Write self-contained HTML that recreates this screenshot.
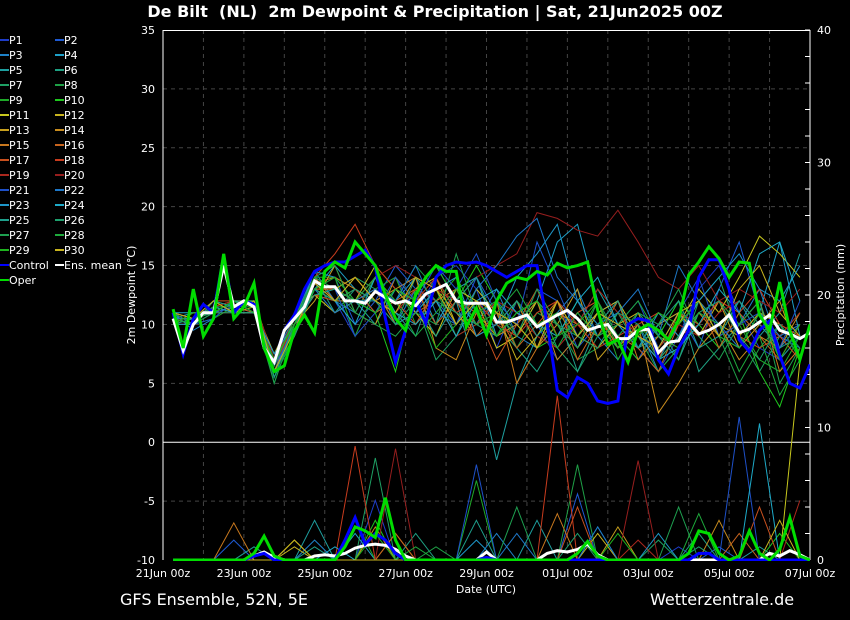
<!DOCTYPE html>
<html><head><meta charset="utf-8"><style>
body{margin:0;background:#000;width:850px;height:620px;overflow:hidden;font-family:"DejaVu Sans","Liberation Sans",sans-serif}
svg{display:block}
text{fill:#fff}
.pre{white-space:pre}
</style></head><body>
<svg id="chart" width="850" height="620" viewBox="0 0 850 620" xmlns="http://www.w3.org/2000/svg">
<rect x="0" y="0" width="850" height="620" fill="#000"/>
<text class="pre" xml:space="preserve" x="435" y="17" text-anchor="middle" font-size="16" font-weight="bold">De Bilt  (NL)  2m Dewpoint &amp; Precipitation | Sat, 21Jun2025 00Z</text>
<g id="grid"></g>
<g id="axes"></g>
<g id="series" clip-path="url(#clip)"></g>
<g id="legend"></g>
<defs><clipPath id="clip"><rect x="163" y="30" width="647" height="531"/></clipPath></defs>
<text transform="translate(135,295) rotate(-90)" text-anchor="middle" font-size="11">2m Dewpoint (°C)</text>
<text transform="translate(844,295) rotate(-90)" text-anchor="middle" font-size="11">Precipitation (mm)</text>
<text x="486" y="593" text-anchor="middle" font-size="11">Date (UTC)</text>
<text x="120" y="605" font-size="16">GFS Ensemble, 52N, 5E</text>
<text x="650" y="605" font-size="16">Wetterzentrale.de</text>
</svg>
<script>
const xTickLabels=["21Jun 00z","23Jun 00z","25Jun 00z","27Jun 00z","29Jun 00z","01Jul 00z","03Jul 00z","05Jul 00z","07Jul 00z"];
const yTicks=[-10,-5,0,5,10,15,20,25,30,35];
const y2Ticks=[0,10,20,30,40];
const memberColors=["#1e3cc8","#1e5ad2","#1e82c8","#1ea0c8","#1ea0a0","#1ea082","#1ea064","#1ea046","#1eaa28","#1ec81e","#c8c81e","#c8b41e","#c8a01e","#c88c1e","#c8781e","#c8641e","#c8501e","#c83c1e","#aa281e","#961e1e","#1e50c8","#1e78c8","#1e96c8","#1eaac8","#1ea08c","#1ea06e","#1ea050","#1eaa3c","#1eb41e","#c8b41e"];
const controlDew=[11,7.5,10.5,11.7,11,15.8,11,12,11.7,8,6.8,9.5,10.8,13,14.5,15,15.3,15.3,15.8,16.3,14.9,10.5,6.8,9.5,12,10.1,14,15,15.3,15.2,15.3,15,14.5,14,14.5,15,15,10,4.4,3.8,5.5,5,3.5,3.3,3.5,10,10.5,10.3,7,5.8,8,9.5,14,15.5,15.5,13,8.7,7.7,9.5,10.3,7.4,5,4.6,6.6];
const operDew=[11.3,8,13,9,10.5,16,10.5,11.5,13.5,8,6,6.5,9.5,10.8,9.3,14.5,15.3,14.8,17,16,15,12.5,10.5,9.5,12.5,14,15,14.5,14.5,9.8,11.4,9.1,12,13.5,14,13.8,14.5,14.2,15.2,14.8,15,15.3,11.2,8.3,8.7,6.8,9.5,10,9.5,8.7,10.4,14.2,15.3,16.6,15.6,14,15.3,15.2,10.8,9.5,13.6,9.5,7,10];
const meanDew=[10.5,7.8,10,11,11,15,11.5,12,11.5,8,6.8,9.5,10.5,11.5,13.7,13.2,13.2,12,12,11.8,12.8,12.3,11.8,12,11.6,12.6,13,13.4,12,11.8,11.8,11.8,10.2,10.2,10.5,10.8,9.8,10.3,10.8,11.2,10.5,9.5,9.8,10,8.8,8.8,9.5,9.6,7.6,8.5,8.6,10.2,9.2,9.5,10,10.8,9.3,9.6,10.2,10.8,9.5,9.2,8.8,9.3];
const memberDew=[
[10.5,10,11.5,11,12,6.5,10,14,12,9,13,14,11,14,15,13,8,12,10,7,9,11,12,8,6,9,13,15,11,8,7,9],
[10,10.5,12,11.5,11,7,9.5,13,14,10,12,15,13,12,10,14,11,9,13,12,8,10,9,7,10,11,8,13,17,11,9,8],
[11,9.5,10.5,12,11,7.5,10.5,14.5,12,11,14,10,13,15,12,10,13,9,8,11,13,9,7,10,6,8,10,12,10,13,8,10],
[10.5,11,11,11.5,12,6,9,13,15,13,11,12,14,10,13,14,9,10,12,17,18.5,12,8,9,7,10,12,9,8,11,17,9],
[10,10,11,12,11.5,6.5,10,13.5,13,12,10,13,11,13,12,6,-1.5,5,9,11,10,13,10,8,9,7,11,10,12,9,11,16],
[11,10.5,11.5,11,11,7,10.5,14,11,13,12,11,9,14,11,12,10,8,6,9,12,10,8,11,9,12,6,8,10,12,7,9],
[10.5,10,12,11.5,12,5.5,9,13,12,14,13,10,12,7,9,13,11,9,12,8,6,9,11,8,10,7,12,14,9,6,9,11],
[10,11,11,12,11,5,10,13.5,13,11,14,12,15,13,9,10,12,8,11,10,7,8,10,9,6,8,11,9,5,8,10,7],
[11,10,10.5,11.5,12,6,9.5,14,14,9,13,14,10,12,14,11,9,12,10,11,9,12,7,10,8,11,9,12,10,7,6,9],
[10.5,10.5,11,12,11,7,10,13,12,12,11,6,13,15,12,15,12,10,8,9,12,10,9,7,9,12,10,8,11,6,3,8],
[10,10,11.5,11,11.5,7.5,11,12.5,11,12,15,13,11,9,13,12,8,9,12,10,8,11,12,9,8,10,13,11,14,17.5,16,14],
[11,10.5,11,12,12,7,10.5,13,13,14,12,11,13,14,10,13,11,7,9,12,9,8,10,11,7,9,12,10,9,11,10,9],
[10.5,10,12,11,11,6.5,10,12,15,11,10,14,12,13,11,9,10,12,8,10,13,7,9,8,10,11,9,12,8,10,12,7],
[10,11,11,11.5,12,7,9.5,13.5,14,13,12,13,14,8,7,11,9,10,12,7,9,11,8,10,2.5,5,8,10,7,9,8,11],
[11,10,11.5,12,11.5,6,10.5,14,12,12,13,10,11,12,13,10,12,5,8,11,10,9,12,7,9,8,11,9,10,12,6,8],
[10.5,10.5,11,11.5,11,6.5,10,13,13,12,14,12,13,10,12,9,11,8,10,12,7,10,9,8,6,10,12,8,11,9,7,10],
[10,10,12,12,12,7,10,12.5,12,13,11,12,10,13,12,11,7,10,13,9,11,12,8,9,7,11,10,12,9,8,9,7],
[11,10.5,11,11,11,6,9,14,16,18.5,15,13,12,14,11,12,10,9,11,12,10,8,9,10,11,9,10,12,11,13,10,9],
[10.5,10,11.5,12,11.5,6.5,10,13,12,14,12,11,13,12,9,10,12,11,9,8,10,13,11,9,8,10,9,11,12,10,9,11],
[10,11,11,11.5,12,7,10.5,13.5,13,12,14,15,14,13,12,14,15,16,19.5,19,18,17.5,19.7,17,14,13,15,12,13,12,11,13],
[11,10,10.5,12,11,6.5,9.5,14,13,9,11,14,12,15,13,16,12,10,17,13,9,11,10,12,8,11,14,9,10,11,8,12],
[10.5,10.5,11,11.5,12,6,10,13,11,12,13,12,15,11,10,13,15,17.5,19,14,12,10,11,13,9,15,12,10,8,11,9,10],
[10,10,11.5,11,11,7.5,10,14.5,14,12,12,10,11,13,14,9,10,14,16,18.5,12,9,10,8,11,9,12,14,16,13,12,15],
[11,11,11,12,11.5,6.5,10.5,13,12,10,14,11,10,12,9,12,13,11,10,9,12,14,10,9,7,8,10,13,11,16,17,12],
[10.5,10,12,11.5,12,5.5,10,12.5,13,12,11,13,12,9,12,14,10,12,9,11,6,10,12,8,10,12,8,9,12,10,8,9],
[10,10.5,11,11,11,6,9,13,12,13,12,10,14,12,11,10,9,11,12,10,9,8,11,10,7,9,11,12,9,7,10,8],
[11,10,11,12,12,5,10,14,15,11,10,9,11,10,16,11,12,9,13,10,8,12,9,11,10,13,9,7,10,12,5,8],
[10.5,10,11.5,11.5,11.5,6.5,10.5,14,13,12,14,12,9,11,13,10,11,13,10,8,11,9,10,12,9,8,11,10,6,9,4,7],
[10,11,11,12,11,7,10,13,14,12,11,13,12,8,10,12,9,11,12,9,10,12,8,9,11,10,12,9,8,11,7,10],
[11,10.5,12,11,12,6,9.5,13.5,12,14,12,11,14,13,10,12,11,10,8,12,9,11,10,9,8,11,12,9,13,15,11,9]];
const controlPrecip=[0,0,0,0,0,0,0,0,0.3,0.5,0,0,0,0,0,0,0,1.5,3.2,1.2,2,1.5,0.5,0,0,0,0,0,0,0,0,0.2,0,0,0,0,0,0,0,0,0,0,0,0,0,0,0,0,0,0,0,0,0.5,0.5,0,0,0,0,0,0,0,0,0,0];
const operPrecip=[0,0,0,0,0,0,0,0,0.5,1.8,0.3,0,0,0,0,0,0,1,2.5,2.2,1.7,4.7,1.5,0,0,0,0,0,0,0,0,0,0,0,0,0,0,0,0,0,0.5,1.4,0.3,0,0,0,0,0,0,0,0,0.5,2.2,2,0.5,0,0.3,2.2,0.5,0,0.8,3.2,0.3,0];
const meanPrecip=[0,0,0,0,0,0,0,0,0.3,0.6,0.2,0,0,0,0.3,0.4,0.3,0.5,0.9,1.1,1.2,1.1,0.8,0.3,0,0,0,0,0,0,0,0.6,0,0,0,0,0,0.5,0.7,0.6,0.8,1.2,0.4,0,0,0,0,0,0,0,0,0,0,0,0,0,0,0,0,0.5,0.3,0.7,0.4,0];
const memberPrecip=[
[0,0,0,0,1,0,0,0,0,0,4.5,0,0,0,0,0,0,0,0,0,0,0,0,0,0,1,0,0,0,0,0,0],
[0,0,0,1.5,0,0,0,0,0,0,0,0,0,0,0,0,0,0,0,0,5,0,0,0,0,0,0,1,0,0,0,0],
[0,0,0,0,0,0,0,1.5,0,0,0,0,0,0,0,0,2,0,0,0,0,0,0,0,0,0,0,0,0,0,0,0],
[0,0,0,0,0,0,0,0,0,2,0,0,0,0,0,0,0,0,0,0,0,2.5,0,0,0,0,0,0,0,0,0,0],
[0,0,0,0,0,0,0,3,0,0,0,0,0,0,0,0,0,0,3,0,0,0,0,0,0,0,0,0,0,1,0,0],
[0,0,0,0,1,0,0,0,0,0,0,0,2,0,0,0,0,0,0,0,0,0,0,0,0,0,2,0,0,0,0,0],
[0,0,0,0,0,0,0,0,0,0,7.7,0,0,0,0,0,0,0,0,0,0,0,0,0,1.5,0,0,0,0,0,0,0],
[0,0,0,0,0,0,0,0,0,0,0,0,0,1,0,0,0,0,0,0,7.2,0,0,0,0,0,0,0,0,0,0,0],
[0,0,0,0,0,0,0,0,0,3,0,0,0,0,0,6,0,0,0,0,0,0,0,0,0,0,0,0,0,0,0,0],
[0,0,0,0,0,0,0,0,0,0,3,0,0,0,0,0,0,0,0,0,0,0,0,0,0,0,0,0,0,0,2,0],
[0,0,0,0,0,0,1.5,0,0,0,0,0,0,0,0,0,0,0,0,0,0,0,0,0,0,0,0,0,0,0,0,15],
[0,0,0,0,0,0,1,0,0,0,0,0,0,0,0,0,0,0,0,0,0,2,0,0,0,0,0,0,0,0,0,0],
[0,0,0,0,0,0,0,0,0,0,0,2,0,0,0,0,0,0,0,0,0,0,2.5,0,0,0,0,0,0,0,0,0],
[0,0,0,0,0,0,0,0,0,0,2.5,0,0,0,0,0,0,0,0,0,0,0,0,0,0,0,0,3,0,0,0,0],
[0,0,0,2.8,0,0,0,0,0,0,0,0,0,0,0,0,0,0,0,3.5,0,0,0,0,0,0,0,0,0,0,0,0],
[0,0,0,0,0,0,0,0,0,0,0,2,0,0,0,0,0,0,0,0,0,0,0,0,0,0,0,0,2,0,0,0],
[0,0,0,0,0,0,0,0,0,0,0,0,0,0,0,0,0,0,0,0,4,0,0,0,0,0,0,0,0,4,0,0],
[0,0,0,0,0,0,0,0,0,8.6,0,0,0,0,0,0,0,0,0,12.4,0,0,0,0,0,0,0,0,0,0,0,0],
[0,0,0,0,0,0,0,0,0,0,0,0,0,0,0,0,0,0,0,0,0,0,0,1.5,0,0,0,0,0,0,0,4.5],
[0,0,0,0,0,0,0,0,0,0,0,8.4,0,0,0,0,0,0,0,0,0,0,0,7.5,0,0,0,0,0,0,0,0],
[0,0,0,0,0,0,0,0,0,0,0,0,0,0,0,7.2,0,0,0,0,0,0,0,0,0,0,0,0,10.8,0,0,0],
[0,0,0,0,0,0,0,0,0,0,0,0,0,0,0,0,0,2,0,0,0,2.5,0,0,0,0,0,0,0,0,0,0],
[0,0,0,0,0,0,0,0,0,0,0,0,0,0,0,1.5,0,0,0,0,0,0,0,0,2,0,0,0,0,0,0,0],
[0,0,0,0,0,0,0,0,1,0,0,0,0,0,0,0,0,0,0,0,0,0,0,0,0,0,0,0,0,10.3,0,0],
[0,0,0,0,0,0,0,1,0,0,0,0,0,0,0,3,0,0,0,0,0,0,0,0,0,0,0,0,0,0,0,0],
[0,0,0,0,0,0,0,0,0,0,0,0,0,0,0,0,0,0,0,0,2,0,0,0,0,0,1,0,0,0,0,0],
[0,0,0,0,0,0,0,0,0,0,0,0,0,0,0,0,0,4,0,0,0,0,0,0,0,4,0,0,0,0,0,0],
[0,0,0,0,0,0,0,0,0,0,0,0,1,0,0,0,0,0,0,0,0,0,0,0,0,0,3.5,0,0,0,0,0],
[0,0,0,0,0,0,0,0,0,0,2,0,0,0,0,0,0,0,0,0,0,0,2,0,0,0,0,0,0,0,0,0],
[0,0,0,0,0,0,1.5,0,0,0,0,0,0,0,0,0,0,0,0,0,0,0,0,0,0,0,0,0,0,0,3,0]];

const NS="http://www.w3.org/2000/svg";
const X0=163,X1=810,Y0=30,Y1=560;
function xT(t){return X0+t*(X1-X0)/64;}
function yDew(v){return Y0+(35-v)*(Y1-Y0)/45;}
function yPr(v){return Y1-v*(Y1-Y0)/40;}
function mk(tag,attrs,parent){const e=document.createElementNS(NS,tag);for(const k in attrs)e.setAttribute(k,attrs[k]);parent.appendChild(e);return e;}
const grid=document.getElementById('grid'),axes=document.getElementById('axes'),series=document.getElementById('series'),legend=document.getElementById('legend');
for(let d=1;d<16;d++){const l=mk('line',{x1:xT(d*4),x2:xT(d*4),y1:Y0,y2:Y1,stroke:'#444','stroke-dasharray':'4,4'},grid);

}
yTicks.forEach(v=>{if(v!==0&&v!==35&&v!==-10){const l=mk('line',{x1:X0,x2:X1,y1:yDew(v),y2:yDew(v),stroke:'#444','stroke-dasharray':'4,4'},grid);

}});
let a=mk('line',{x1:X0,x2:X0,y1:Y0,y2:Y1,stroke:'#fff'},axes);


a=mk('line',{x1:X1,x2:X1,y1:Y0,y2:Y1,stroke:'#fff'},axes);


a=mk('line',{x1:X0,x2:X1,y1:Y0+0.5,y2:Y0+0.5,stroke:'#fff'},axes);


a=mk('line',{x1:X0,x2:X1,y1:yDew(0),y2:yDew(0),stroke:'#fff'},axes);


yTicks.forEach(v=>{const t=mk('text',{x:155,y:yDew(v)+4,'text-anchor':'end','font-size':11},axes);t.textContent=v;

});
for(let v=0;v<=40;v+=2){const tk=mk('line',{x1:X1-5,x2:X1,y1:yPr(v),y2:yPr(v),stroke:'#fff'},axes);

}
y2Ticks.forEach(v=>{const t=mk('text',{x:817,y:yPr(v)+4,'font-size':11},axes);t.textContent=v;

});
xTickLabels.forEach((s,i)=>{const t=mk('text',{x:xT(i*8),y:577,'text-anchor':'middle','font-size':11},axes);t.textContent=s;

});
function pts(arr,start,step,fy){return arr.map((v,i)=>xT(start+i*step).toFixed(1)+','+fy(v).toFixed(1)).join(' ');}
memberPrecip.forEach((arr,i)=>{const p=mk('polyline',{points:pts(arr,1,2,yPr),fill:'none',stroke:memberColors[i],'stroke-width':1},series);

});
memberDew.forEach((arr,i)=>{const p=mk('polyline',{points:pts(arr,1,2,yDew),fill:'none',stroke:memberColors[i],'stroke-width':1},series);

});
let s=mk('polyline',{points:pts(meanPrecip,1,1,yPr),fill:'none',stroke:'#fff','stroke-width':3},series);


s=mk('polyline',{points:pts(controlPrecip,1,1,yPr),fill:'none',stroke:'#0000ff','stroke-width':3},series);


s=mk('polyline',{points:pts(operPrecip,1,1,yPr),fill:'none',stroke:'#00dd00','stroke-width':3},series);


s=mk('polyline',{points:pts(controlDew,1,1,yDew),fill:'none',stroke:'#0000ff','stroke-width':3},series);


s=mk('polyline',{points:pts(meanDew,1,1,yDew),fill:'none',stroke:'#fff','stroke-width':3},series);


s=mk('polyline',{points:pts(operDew,1,1,yDew),fill:'none',stroke:'#00dd00','stroke-width':3},series);


const legItems=[];for(let i=0;i<30;i++)legItems.push(['P'+(i+1),memberColors[i]]);
legItems.push(['Control','#0000ff'],['Ens. mean','#ffffff'],['Oper','#00dd00']);
legItems.forEach((it,i)=>{const col=i%2,row=Math.floor(i/2);const x=col?55:0,y=40+row*15;
const g=mk('g',{},legend);


mk('line',{x1:x,x2:x+9,y1:y,y2:y,stroke:it[1],'stroke-width':2},g);
const t=mk('text',{x:x+9,y:y+4,'font-size':11},g);t.textContent=it[0];});
</script>
</body></html>
